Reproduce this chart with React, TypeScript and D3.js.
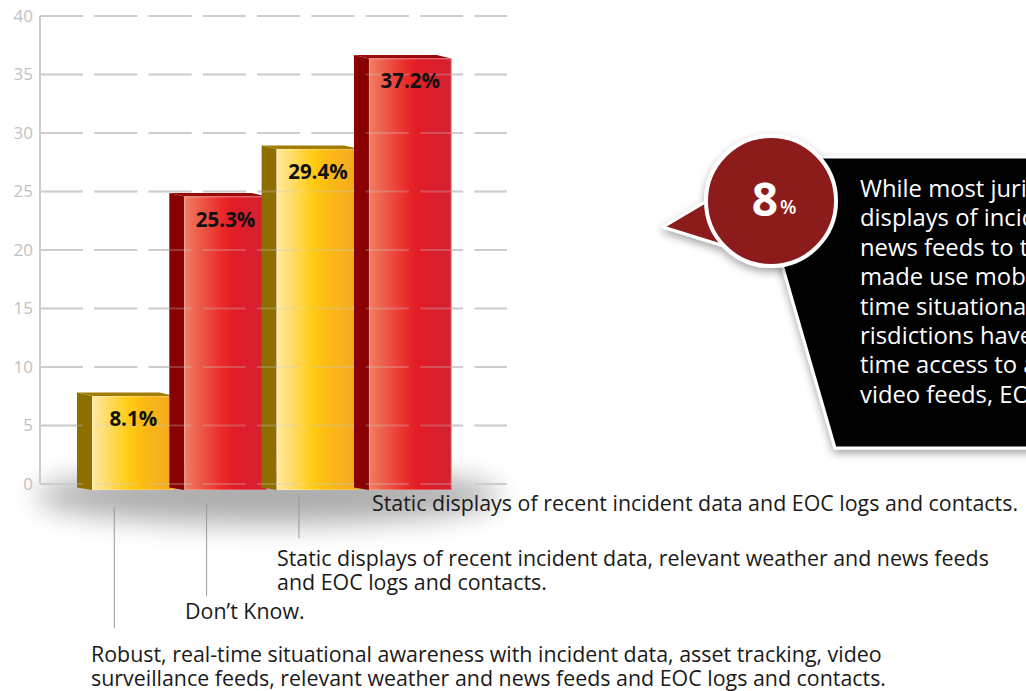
import React from "react";
import * as d3 from "d3";

// values
const categories = ["Robust", "Don't Know", "Static + feeds", "Static"];
const values = [8.1, 25.3, 29.4, 37.2];
const barTones = ["gold", "red", "gold", "red"];
const yTicks = [0, 5, 10, 15, 20, 25, 30, 35, 40];

const categoryLabels = [
  [
    "Robust, real-time situational awareness with incident data, asset tracking, video",
    "surveillance feeds, relevant weather and news feeds and EOC logs and contacts.",
  ],
  ["Don\u2019t Know."],
  [
    "Static displays of recent incident data, relevant weather and news feeds",
    "and EOC logs and contacts.",
  ],
  ["Static displays of recent incident data and EOC logs and contacts."],
];

const calloutFigure = "8";
const calloutLines = [
  "While most jurisdictions provide static",
  "displays of incident data, weather and",
  "news feeds to their EOCs, few have",
  "made use mobile technology for real-",
  "time situational awareness. Only 8% of ju-",
  "risdictions have robust, real-",
  "time access to asset tracking,",
  "video feeds, EOC logs and contacts.",
];

const W = 1026;
const H = 691;
const FONT = "'Open Sans', 'DejaVu Sans', sans-serif";

const tones = {
  gold: { side: "#8f6e00", top: "#a07c00", stops: ["#ffe9a3", "#ffcb12", "#fbbc12", "#f4a622"] },
  red: { side: "#880000", top: "#9a0a0a", stops: ["#f07e62", "#ea2b2a", "#e21c26", "#d22131"] },
};

// where each category's caption sits (text x, first baseline, leader line)
const labelLayout = [
  { x: 91, y: 662, top: 507, bottom: 628 },
  { x: 185, y: 619, top: 503, bottom: 596 },
  { x: 277, y: 566, top: 495, bottom: 538 },
  { x: 372, y: 511, top: 0, bottom: 0 },
];

export default function App() {
  const y = d3.scaleLinear().domain([0, 40]).range([484, 16]);
  // bars are drawn slightly lower in perspective than the axis
  const yBar = d3.scaleLinear().domain([0, 40]).range([490, 26]);
  const x = d3.scaleBand<string>().domain(categories).range([92, 451.5]).paddingInner(0.106);
  const bw = x.bandwidth();
  const depth = 15;
  const lift = 3.5;

  const grid = (opacity: number) =>
    yTicks.map((t) => (
      <line
        key={"g" + t}
        x1={40}
        x2={507}
        y1={y(t)}
        y2={y(t)}
        stroke="#cdcdcd"
        strokeWidth={2}
        strokeDasharray="43 11.3"
        opacity={opacity}
      />
    ));

  return (
    <div style={{ position: "absolute", left: 0, top: 0 }}>
      <svg width={W} height={H} style={{ display: "block" }}>
        <defs>
          {Object.entries(tones).map(([k, t]) => (
            <linearGradient key={k} id={"front-" + k} x1="0" x2="1" y1="0" y2="0">
              <stop offset="0" stopColor={t.stops[0]} />
              <stop offset="0.45" stopColor={t.stops[1]} />
              <stop offset="0.6" stopColor={t.stops[2]} />
              <stop offset="1" stopColor={t.stops[3]} />
            </linearGradient>
          ))}
          <filter id="blur" x="-30%" y="-200%" width="160%" height="500%">
            <feGaussianBlur stdDeviation="14" />
          </filter>
          <filter id="drop" x="-10%" y="-10%" width="130%" height="130%">
            <feDropShadow dx="0" dy="4" stdDeviation="4" floodColor="#000" floodOpacity="0.35" />
          </filter>
        </defs>

        <rect width={W} height={H} fill="#fff" />

        {/* soft floor shadow */}
        <ellipse cx={268} cy={496} rx={232} ry={28} fill="#000" opacity={0.32} filter="url(#blur)" />

        {grid(1)}
        <line x1={40} x2={40} y1={y(40)} y2={y(0)} stroke="#cdcdcd" strokeWidth={2} />
        {yTicks.map((t) => (
          <text
            key={"t" + t}
            x={33}
            y={y(t)}
            dy="0.35em"
            textAnchor="end"
            fontFamily={FONT}
            fontSize={17}
            fill="#c2c2c2"
          >
            {t}
          </text>
        ))}

        {categories.map((c, i) => {
          const tone = tones[barTones[i] as "gold" | "red"];
          const x0 = x(c)!;
          const top = yBar(values[i]);
          const base = yBar(0);
          return (
            <g key={c}>
              <polygon
                points={`${x0 - depth},${top - lift} ${x0},${top} ${x0},${base} ${x0 - depth},${base - 2.5}`}
                fill={tone.side}
              />
              <polygon
                points={`${x0 - depth},${top - lift} ${x0 + bw - depth},${top - lift} ${x0 + bw},${top} ${x0},${top}`}
                fill={tone.top}
              />
              <rect x={x0} y={top} width={bw} height={base - top} fill={`url(#front-${barTones[i]})`} />
              <rect
                x={x0 + 0.5}
                y={top + 0.5}
                width={bw - 1}
                height={base - top - 1}
                fill="none"
                stroke="#fff"
                strokeOpacity={0.25}
              />
            </g>
          );
        })}

        {grid(0.28)}

        {categories.map((c, i) => (
          <text
            key={"v" + c}
            x={x(c)! + bw / 2}
            y={yBar(values[i]) + 30}
            textAnchor="middle"
            fontFamily={FONT}
            fontWeight={700}
            fontSize={20.5}
            fill="#111"
          >
            {values[i].toFixed(1)}%
          </text>
        ))}

        {/* category captions */}
        {categoryLabels.map((lines, i) => {
          const L = labelLayout[i];
          return (
            <g key={"c" + i}>
              {L.bottom > 0 && (
                <line
                  x1={x(categories[i])! + bw * 0.27}
                  x2={x(categories[i])! + bw * 0.27}
                  y1={L.top}
                  y2={L.bottom}
                  stroke="#9a9a9a"
                  strokeWidth={1}
                />
              )}
              {lines.map((s, j) => (
                <text key={j} x={L.x} y={L.y + j * 23.5} fontFamily={FONT} fontSize={21.4} fill="#1a1a1a">
                  {s}
                </text>
              ))}
            </g>
          );
        })}

        {/* callout */}
        <g filter="url(#drop)">
          <polygon points="751,157 1040,157 1040,448 835,448" fill="#000" stroke="#fff" strokeWidth={3} />
        </g>
        {calloutLines.map((s, j) => (
          <text key={"l" + j} x={860} y={197 + j * 29.4} fontFamily={FONT} fontSize={23.8} fill="#fff">
            {s}
          </text>
        ))}
        <g filter="url(#drop)">
          <polygon points="663,227 712,198 724,246" fill="#8c1a1c" stroke="#fff" strokeWidth={3} strokeLinejoin="round" />
          <circle cx={771} cy={201} r={65} fill="#8c1a1c" stroke="#fff" strokeWidth={4} />
        </g>
        <text x={778} y={216} fontFamily={FONT} textAnchor="end" fontWeight={700} fontSize={46} fill="#fff">
          {calloutFigure}
        </text>
        <text x={780} y={214} fontFamily={FONT} fontWeight={600} fontSize={19} fill="#fff">
          %
        </text>
      </svg>
    </div>
  );
}
